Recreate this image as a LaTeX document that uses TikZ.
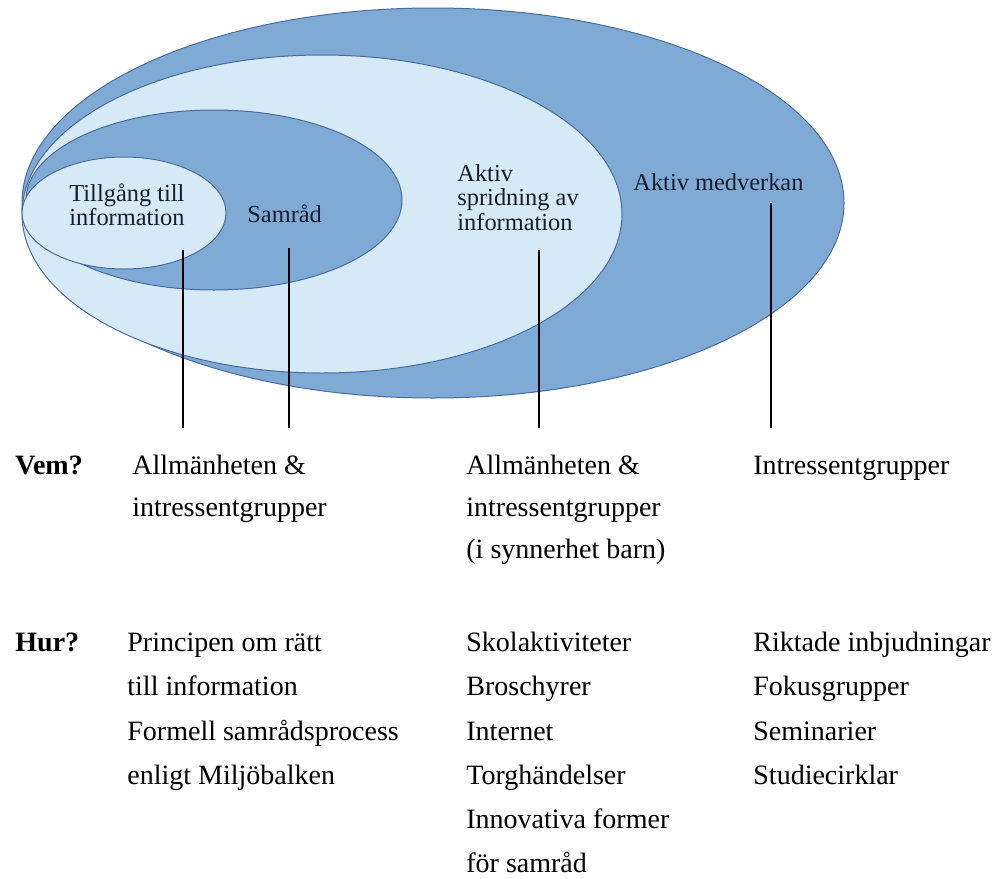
\documentclass[tikz,border=0pt]{standalone}
\usepackage{fontspec}
\setmainfont{Liberation Serif}
\definecolor{midblue}{RGB}{128,170,214}
\definecolor{lightblue}{RGB}{214,233,247}
\definecolor{edgeblue}{RGB}{72,108,158}
\definecolor{navy}{RGB}{22,30,44}
\begin{document}
\begin{tikzpicture}[x=0.5pt,y=-0.5pt,
  ell/.style={draw=edgeblue,line width=0.5pt},
  inlbl/.style={anchor=base west,inner sep=0pt,text=navy,font=\fontsize{12.2}{14}\selectfont},
  txt/.style={anchor=base west,inner sep=0pt,font=\fontsize{14}{16}\selectfont},
  head/.style={txt,font=\fontsize{14}{16}\selectfont\bfseries},
  conn/.style={draw=black,line width=1.2pt}]
\useasboundingbox (0,0) rectangle (1000,878);
\fill[white] (0,0) rectangle (1000,878);
% ellipses
\draw[ell,fill=midblue] (433,203) ellipse [x radius=205.5pt,y radius=97.5pt];
\draw[ell,fill=lightblue] (322,214) ellipse [x radius=150pt,y radius=79.5pt];
\draw[ell,fill=midblue] (214,200) ellipse [x radius=94pt,y radius=45pt];
\draw[ell,fill=lightblue] (124,213) ellipse [x radius=51pt,y radius=28pt];
% ellipse labels
\node[inlbl] (t1) at (69,201) {Tillgång till};
\node[inlbl] (t2) at (69,225) {information};
\node[inlbl] (s1) at (247,222) {Samråd};
\node[inlbl] (a1) at (457,181) {Aktiv};
\node[inlbl] (a2) at (457,205) {spridning av};
\node[inlbl] (a3) at (457,230) {information};
\node[inlbl] (m1) at (633,190) {Aktiv medverkan};
% connector ends
\coordinate (c1t) at (183,250); \coordinate (c1b) at (183,428);
\coordinate (c2t) at (289,248); \coordinate (c2b) at (289,428);
\coordinate (c3t) at (539,250); \coordinate (c3b) at (539,428);
\coordinate (c4t) at (771,203); \coordinate (c4b) at (771,428);
\draw[conn] (c1t) -- (c1b);
\draw[conn] (c2t) -- (c2b);
\draw[conn] (c3t) -- (c3b);
\draw[conn] (c4t) -- (c4b);
% Vem?
\node[head] (vem) at (15,474) {Vem?};
\node[txt] (v11) at (132,474) {Allmänheten \&};
\node[txt] (v12) at (132,516) {intressentgrupper};
\node[txt] (v21) at (466,474) {Allmänheten \&};
\node[txt] (v22) at (466,516) {intressentgrupper};
\node[txt] (v23) at (466,558) {(i synnerhet barn)};
\node[txt] (v31) at (753,474) {Intressentgrupper};
% Hur?
\node[head] (hur) at (15,651) {Hur?};
\node[txt] (h11) at (127,651) {Principen om rätt};
\node[txt] (h12) at (127,695) {till information};
\node[txt] (h13) at (127,740) {Formell samrådsprocess};
\node[txt] (h14) at (127,784) {enligt Miljöbalken};
\node[txt] (h21) at (466,651) {Skolaktiviteter};
\node[txt] (h22) at (466,695) {Broschyrer};
\node[txt] (h23) at (466,740) {Internet};
\node[txt] (h24) at (466,784) {Torghändelser};
\node[txt] (h25) at (466,828) {Innovativa former};
\node[txt] (h26) at (466,872) {för samråd};
\node[txt] (h31) at (753,651) {Riktade inbjudningar};
\node[txt] (h32) at (753,695) {Fokusgrupper};
\node[txt] (h33) at (753,740) {Seminarier};
\node[txt] (h34) at (753,784) {Studiecirklar};
\end{tikzpicture}
\end{document}
